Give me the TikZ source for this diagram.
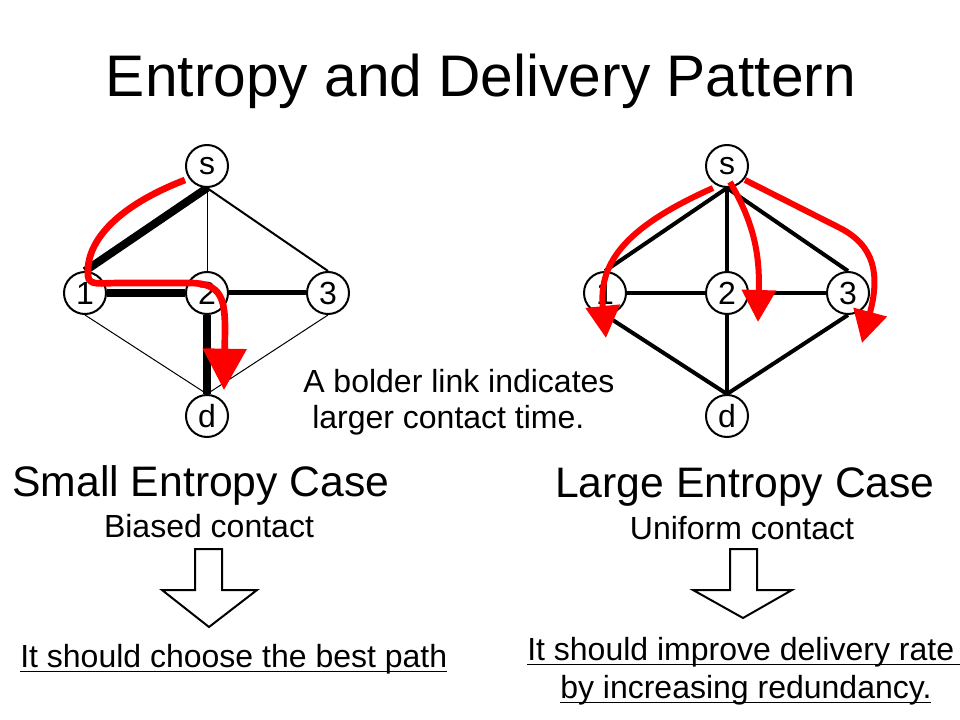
\documentclass[tikz,border=0pt]{standalone}
\usepackage{fontspec}
\setmainfont{Liberation Sans}
\usetikzlibrary{arrows.meta,backgrounds}
\newcommand\ulx[1]{\setbox0=\hbox{#1}\rlap{\rule[-4.1pt]{\wd0}{1.3pt}}\box0}

\begin{document}
\begin{tikzpicture}[x=0.75pt,y=-0.75pt,
  vtx/.style={draw,circle,line width=1.5pt,fill=white,minimum size=31.5pt,inner sep=0pt,font=\fontsize{24}{24}\selectfont},
  link/.style={line width=#1},
  flow/.style={red,line width=5pt,-{Triangle[width=32pt,length=31pt]}},
  flowb/.style={red,line width=4.5pt,-{Triangle[width=25pt,length=24pt]}},
  blk/.style={draw,line width=1.5pt,line join=miter},
  txt/.style={inner sep=0pt,anchor=base,font=\fontsize{#1}{#1}\selectfont}]
\useasboundingbox (0,0) rectangle (960,720);
\node[txt=44] (title) at (481,97) {Entropy and Delivery Pattern};
% small entropy case
\node[vtx] (ls) at (207,166) {s};
\node[vtx] (l1) at (85,293) {1};
\node[vtx] (l2) at (207,293) {2};
\node[vtx] (l3) at (328,293) {3};
\node[vtx] (ld) at (207,416) {d};
\begin{scope}[on background layer]
\draw[link=6pt] (ls.south) -- (l1.north);
\draw[link=0.75pt] (ls.south) -- (l2.north);
\draw[link=1.5pt] (ls.south) -- (l3.north);
\draw[link=5.5pt] (l1.east) -- (l2.west);
\draw[link=3.75pt] (l2.east) -- (l3.west);
\draw[link=5.5pt] (l2.south) -- (ld.north);
\draw[link=0.75pt] (l1.south) -- (ld.north);
\draw[link=0.75pt] (l3.south) -- (ld.north);
\end{scope}
\draw[flow] (185,180) .. controls (120,205) and (85,240) .. (88,276)
  .. controls (89,286) and (100,283) .. (120,283) -- (190,283)
  .. controls (222,283) and (225,300) .. (225,330) -- (224,390);
% large entropy case
\node[vtx] (rs) at (727,166) {s};
\node[vtx] (r1) at (605,293) {1};
\node[vtx] (r2) at (727,293) {2};
\node[vtx] (r3) at (848,293) {3};
\node[vtx] (rd) at (727,416) {d};
\begin{scope}[on background layer]
\foreach \i in {1,2,3}{
\draw[link=3pt] (rs.south) -- (r\i.north);
\draw[link=3pt] (r\i.south) -- (rd.north);
}
\draw[link=3pt] (r1.east) -- (r2.west);
\draw[link=3pt] (r2.east) -- (r3.west);
\end{scope}
\draw[flowb] (713,188) .. controls (630,225) and (598,260) .. (606,338);
\draw[flowb] (730,182) .. controls (752,220) and (760,250) .. (758,322);
\draw[flowb] (745,180) -- (840,228) .. controls (875,246) and (880,275) .. (862,343);
% notes
\node[txt=24,anchor=base west] (note1) at (303,392) {A bolder link indicates};
\node[txt=24,anchor=base west] (note2) at (312,428) {larger contact time.};
\node[txt=32] (smallcase) at (201,496) {Small Entropy Case};
\node[txt=32] (largecase) at (745,497) {Large Entropy Case};
\node[txt=24] (biased) at (209,537) {Biased contact};
\node[txt=24] (uniform) at (742,539) {Uniform contact};
\draw[blk] (195,549) -- (222,549) -- (222,590) -- (257,590) -- (209,627) -- (162,590) -- (195,590) -- cycle;
\draw[blk] (730,549) -- (757,549) -- (757,590) -- (792,590) -- (743,618) -- (693,590) -- (730,590) -- cycle;
\node[txt=24,anchor=base west] (bestpath) at (20,667) {\ulx{It should choose the best path}};
\node[txt=24,anchor=base west] (rate1) at (527,660) {\ulx{It should improve delivery rate\ }};
\node[txt=24,anchor=base west] (rate2) at (560,698) {\ulx{by increasing redundancy.}};
\end{tikzpicture}
\end{document}
